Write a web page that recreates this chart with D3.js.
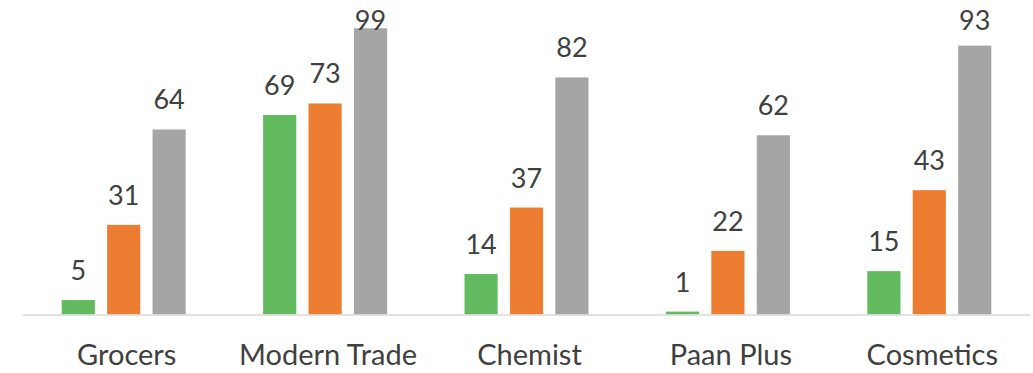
<!DOCTYPE html>
<html>
<head>
<meta charset="utf-8">
<script src="https://cdn.jsdelivr.net/npm/d3@7"></script>
<style>
  body { margin: 0; background: #fff; }
  text { font-family: Lato, "Liberation Sans", sans-serif; fill: #404040; }
</style>
</head>
<body>
<svg id="chart"></svg>
<script>
// Chart data
var categories = ["Grocers", "Modern Trade", "Chemist", "Paan Plus", "Cosmetics"];
var seriesNames = ["Series 1", "Series 2", "Series 3"];
var series1 = [5, 69, 14, 1, 15];
var series2 = [31, 73, 37, 22, 43];
var series3 = [64, 99, 82, 62, 93];
var colors = ["#62bb5f", "#ed7d31", "#a5a5a5"];

var dimensions = {
    width: 1033,
    height: 373,
    margin: { top: 25.4, bottom: 58.5, left: 23, right: 3 }
};

// Build rows from the arrays
var data = categories.map(function(c, i) {
    return { category: c, values: [series1[i], series2[i], series3[i]] };
});

var svg = d3.select("#chart")
    .attr("width", dimensions.width)
    .attr("height", dimensions.height);

var baseline = dimensions.height - dimensions.margin.bottom;

var xScale = d3.scaleBand()
    .domain(categories)
    .range([dimensions.margin.left, dimensions.width - dimensions.margin.right]);

// Inner band for the three bars in each group
var innerScale = d3.scaleBand()
    .domain(seriesNames)
    .range([0, 124])
    .paddingInner(0.27);

var yScale = d3.scaleLinear()
    .domain([0, 100])
    .range([baseline, dimensions.margin.top]);

var groups = svg.selectAll("g.group")
    .data(data)
    .enter()
    .append("g")
    .attr("class", "group")
    .attr("transform", function(d) {
        return "translate(" + (xScale(d.category) + xScale.bandwidth() / 2 - 62) + ",0)";
    });

var cells = groups.selectAll("g.cell")
    .data(function(d) {
        return d.values.map(function(v, j) { return { name: seriesNames[j], value: v, idx: j }; });
    })
    .enter()
    .append("g")
    .attr("class", "cell");

cells.append("rect")
    .attr("x", function(d) { return innerScale(d.name); })
    .attr("y", function(d) { return yScale(d.value); })
    .attr("width", innerScale.bandwidth())
    .attr("height", function(d) { return baseline - yScale(d.value); })
    .attr("fill", function(d) { return colors[d.idx]; });

// Data labels above bars (kept inside the top edge like Excel does)
cells.append("text")
    .attr("x", function(d) { return innerScale(d.name) + innerScale.bandwidth() / 2; })
    .attr("y", function(d) { return Math.max(yScale(d.value) - 20, 30); })
    .attr("text-anchor", "middle")
    .style("font-size", "27px")
    .text(function(d) { return d.value; });

// x axis line
svg.append("line")
    .attr("x1", dimensions.margin.left)
    .attr("x2", dimensions.width - dimensions.margin.right)
    .attr("y1", baseline + 0.5)
    .attr("y2", baseline + 0.5)
    .attr("stroke", "#d9d9d9")
    .attr("stroke-width", 1.5);

// category labels
svg.selectAll("text.cat")
    .data(categories)
    .enter()
    .append("text")
    .attr("class", "cat")
    .attr("x", function(d) { return xScale(d) + xScale.bandwidth() / 2 + 3; })
    .attr("y", 365)
    .attr("text-anchor", "middle")
    .style("font-size", "29px")
    .text(function(d) { return d; });
</script>
</body>
</html>
